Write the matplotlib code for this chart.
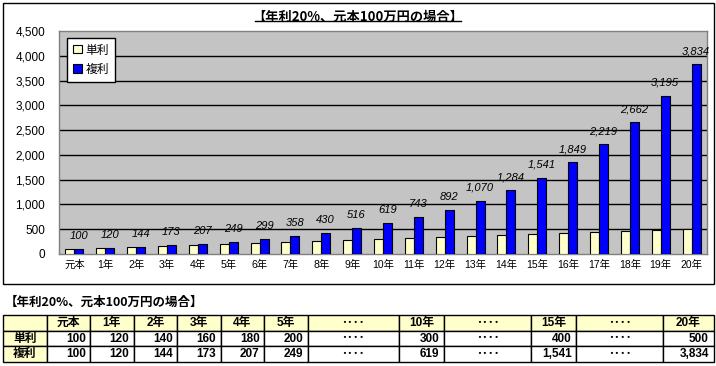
import numpy as np
import matplotlib
matplotlib.use("Agg")
import matplotlib.pyplot as plt
from matplotlib.patches import Rectangle, Patch
from matplotlib.lines import Line2D

plt.rcParams['font.family'] = ['Liberation Sans', 'Noto Sans CJK JP', 'DejaVu Sans']

# ---- data ----
categories = ['元本'] + [f'{i}年' for i in range(1, 21)]
simple = [100, 120, 140, 160, 180, 200, 220, 240, 260, 280, 300,
          320, 340, 360, 380, 400, 420, 440, 460, 480, 500]
compound = [100, 120, 144, 173, 207, 249, 299, 358, 430, 516, 619,
            743, 892, 1070, 1284, 1541, 1849, 2219, 2662, 3195, 3834]
series_names = ['単利', '複利']
title = '【年利20%、元本100万円の場合】'
yticks = list(range(0, 4501, 500))

table_cols = [0, 1, 2, 3, 4, 5, None, 10, None, 15, None, 20]
dots = '････'

# ---- figure ----
W, H = 716, 366
fig = plt.figure(figsize=(W / 100, H / 100), dpi=100)

# outer chart frame
fig.add_artist(Rectangle((3 / W, 82 / H), 711 / W, 281 / H, transform=fig.transFigure,
                         fill=False, ec='black', lw=1))

ax = fig.add_axes([59 / W, 112 / H, 648 / W, 223 / H])
ax.set_facecolor('#c4c4c4')
x = np.arange(len(categories))
bw = 0.29
ax.bar(x - bw / 2, simple, width=bw, color='#FFFFCC', edgecolor='black', linewidth=0.8, zorder=3)
ax.bar(x + bw / 2, compound, width=bw, color='#0000FF', edgecolor='black', linewidth=0.8, zorder=3)

for xi, v in zip(x, compound):
    ax.annotate(f'{v:,}', (xi + bw / 2, v), xytext=(0, 8), textcoords='offset pixels',
                ha='center', va='bottom', style='italic', fontsize=8, zorder=4)

ax.set_xlim(-0.5, len(categories) - 0.5)
ax.set_ylim(0, 4500)
ax.set_yticks(yticks)
ax.set_yticklabels([f'{v:,}' for v in yticks], fontsize=8.5)
ax.set_xticks(x)
ax.set_xticklabels(categories, fontsize=7.5)
ax.tick_params(axis='y', length=0, pad=10)
ax.tick_params(axis='x', length=0, pad=4)
for yv in yticks[1:-1]:
    ax.axhline(yv, color='black', lw=1, zorder=2)
for s in ax.spines.values():
    s.set_color('#808080')
    s.set_linewidth(1)

handles = [Patch(facecolor='#FFFFCC', edgecolor='black', lw=0.8),
           Patch(facecolor='#0000FF', edgecolor='black', lw=0.8)]
leg = ax.legend(handles, series_names, loc='upper left', bbox_to_anchor=(8 / 648, 216 / 223),
                borderaxespad=0, fancybox=False, framealpha=1, edgecolor='black',
                handlelength=0.7, handleheight=0.7, handletextpad=0.3, labelspacing=0.6,
                borderpad=0.55, fontsize=8.5)
leg.get_frame().set_linewidth(1)
leg.set_zorder(5)

# chart title (underlined)
t = fig.text(0.5, 1 - 17 / H, title, ha='center', va='center', fontsize=9.5, fontweight='bold',
             family=['Noto Sans CJK JP', 'DejaVu Sans'])
fig.canvas.draw()
bb = t.get_window_extent()
fig.add_artist(Line2D([(bb.x0 + 2) / W, (bb.x1 - 2) / W], [(bb.y0 + 3) / H] * 2,
                      transform=fig.transFigure, color='black', lw=1))

# table title
fig.text(5 / W, 1 - 302 / H, title, ha='left', va='center', fontsize=9, fontweight='bold',
         family=['Noto Sans CJK JP', 'DejaVu Sans'])

# ---- table ----
bounds = [3, 47, 90, 133.5, 177, 220.5, 264, 307.5, 398.5, 444, 531, 576, 663, 714]
tax = fig.add_axes([bounds[0] / W, (H - 362) / H, (bounds[-1] - bounds[0]) / W, 47 / H])
tax.axis('off')
header = [''] + [categories[c] if c is not None else dots for c in table_cols]
row1 = [series_names[0]] + [f'{simple[c]:,}' if c is not None else dots for c in table_cols]
row2 = [series_names[1]] + [f'{compound[c]:,}' if c is not None else dots for c in table_cols]
cells = [header, row1, row2]
total = bounds[-1] - bounds[0]
colw = [(bounds[i + 1] - bounds[i]) / total for i in range(len(bounds) - 1)]
colors = [['#FFFFCC'] * len(header)] + [['#FFFFCC'] + ['white'] * (len(header) - 1) for _ in range(2)]
tbl = tax.table(cellText=cells, cellColours=colors, colWidths=colw, bbox=[0, 0, 1, 1],
                cellLoc='center')
tbl.auto_set_font_size(False)
for (r, c), cell in tbl.get_celld().items():
    cell.set_linewidth(1)
    cell.set_edgecolor('black')
    txt = cell.get_text()
    txt.set_fontsize(8.5)
    txt.set_fontweight('bold')
    txt.set_family(['Liberation Sans', 'Noto Sans CJK JP', 'DejaVu Sans'])
    if r > 0 and c > 0 and cells[r][c] != dots:
        cell._loc = 'right'
        txt.set_ha('right')

fig.savefig('out.png', dpi=100)
